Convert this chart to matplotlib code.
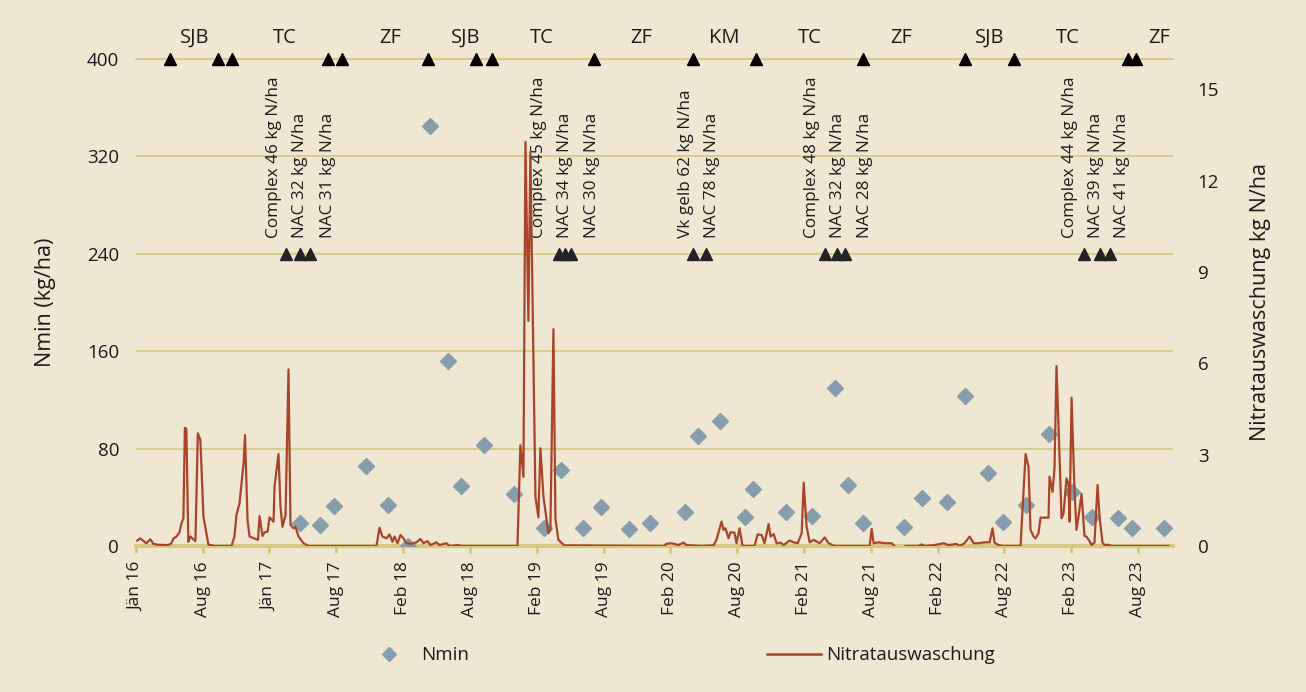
import numpy as np
import matplotlib.pyplot as plt
from matplotlib.lines import Line2D
from datetime import datetime, timedelta

plt.rcParams['font.family'] = ['Open Sans', 'DejaVu Sans']

# Nmin samples (kg/ha); dates given as decimal years
nmin_t = [2017.315, 2017.465, 2017.563, 2017.810, 2017.968, 2018.125, 2018.290, 2018.425,
          2018.523, 2018.695, 2018.920, 2019.145, 2019.273, 2019.438, 2019.573, 2019.783,
          2019.940, 2020.203, 2020.300, 2020.465, 2020.645, 2020.705, 2020.953, 2021.148,
          2021.320, 2021.418, 2021.530, 2021.838, 2021.973, 2022.160, 2022.295, 2022.468,
          2022.580, 2022.753, 2022.925, 2023.105, 2023.255, 2023.443, 2023.555, 2023.788]
nmin_v = [19, 17, 33, 66, 34, 0, 345, 152,
          49, 83, 43, 15, 62, 15, 32, 14,
          19, 28, 90, 103, 24, 47, 28, 25,
          130, 50, 19, 16, 39, 36, 123, 60,
          20, 34, 92, 44, 24, 23, 15, 15]

# Nitrate leaching (kg N/ha); nan = missing
leach_t = [2016.093, 2016.115, 2016.160, 2016.190, 2016.213, 2016.250, 2016.325, 2016.348,
           2016.363, 2016.385, 2016.408, 2016.423, 2016.438, 2016.449, 2016.460, 2016.475,
           2016.490, 2016.528, 2016.546, 2016.565, 2016.588, 2016.625, 2016.670, 2016.798,
           2016.820, 2016.835, 2016.858, 2016.888, 2016.899, 2016.918, 2016.933, 2016.985,
           2016.996, 2017.008, 2017.030, 2017.045, 2017.068, 2017.083, 2017.113, 2017.120,
           2017.150, 2017.165, 2017.180, 2017.203, 2017.225, 2017.240, 2017.263, 2017.278,
           2017.300, 2017.338, 2017.375, 2017.885, 2017.908, 2017.930, 2017.960, 2017.983,
           2018.005, 2018.020, 2018.043, 2018.065, 2018.088, 2018.110, 2018.148, 2018.185,
           2018.215, 2018.238, 2018.268, 2018.290, 2018.335, 2018.358, 2018.410, 2018.433,
           2018.500, 2018.523, 2018.943, 2018.965, 2018.988, 2019.003, 2019.025, 2019.040,
           2019.078, 2019.100, 2019.115, 2019.138, 2019.175, 2019.190, 2019.213, 2019.228,
           2019.250, 2019.295, 2020.045, 2020.060, 2020.098, 2020.128, 2020.150, 2020.188,
           2020.210, 2020.323, 2020.413, 2020.435, 2020.473, 2020.488, 2020.503, 2020.525,
           2020.540, 2020.570, 2020.585, 2020.608, 2020.630, 2020.720, 2020.743, 2020.773,
           2020.795, 2020.825, 2020.840, 2020.863, 2020.885, 2020.915, 2020.938, 2020.983,
           2021.013, 2021.043, 2021.073, 2021.088, 2021.110, 2021.133, 2021.163, 2021.208,
           2021.245, 2021.275, 2021.320, 2021.583, 2021.598, 2021.613, 2021.650, 2021.695,
           2021.748, 2021.770, 2021.810, 2021.853, 2021.950, 2021.973, 2021.995, 2022.070,
           2022.138, 2022.175, 2022.235, 2022.258, 2022.295, 2022.333, 2022.363, 2022.400,
           2022.445, 2022.483, 2022.505, 2022.520, 2022.550, 2022.588, 2022.715, 2022.738,
           2022.753, 2022.775, 2022.790, 2022.813, 2022.828, 2022.850, 2022.865, 2022.925,
           2022.933, 2022.955, 2022.970, 2022.985, 2023.008, 2023.023, 2023.038, 2023.060,
           2023.075, 2023.083, 2023.098, 2023.120, 2023.135, 2023.150, 2023.173, 2023.195,
           2023.210, 2023.233, 2023.248, 2023.270, 2023.293, 2023.308, 2023.330, 2023.345,
           2023.375, 2023.398, 2023.825]
leach_v = [0.18, 0.25, 0.09, 0.22, 0.07, 0.04, 0.03, 0.09,
           0.24, 0.31, 0.44, 0.74, 0.91, 3.88, 3.85, 0.14,
           0.31, 0.16, 3.70, 3.48, 0.96, 0.05, 0.0, 0.0,
           0.31, 1.02, 1.40, 2.71, 3.64, 0.85, 0.31, 0.22,
           0.20, 0.98, 0.33, 0.45, 0.47, 0.94, 0.80, 1.95,
           3.02, 1.29, 0.63, 1.02, 5.80, 0.70, 0.58, 0.63,
           0.31, 0.09, 0.0, 0.0, 0.60, 0.31, 0.25, 0.38,
           0.14, 0.31, 0.09, 0.36, 0.25, 0.09, 0.07, 0.12,
           0.23, 0.09, 0.16, 0.03, 0.12, 0.03, 0.09, 0.0,
           0.03, 0.0, 0.0, 3.31, 2.27, 13.27, 7.39, 12.94,
           1.62, 0.94, 3.21, 1.62, 0.42, 0.52, 7.12, 0.90,
           0.20, 0.02, 0.0, 0.07, 0.09, 0.06, 0.03, 0.11,
           0.03, 0.0, 0.02, 0.20, 0.80, 0.53, 0.58, 0.25,
           0.45, 0.44, 0.09, 0.58, 0.0, 0.0, 0.38, 0.36,
           0.09, 0.72, 0.31, 0.39, 0.09, 0.11, 0.03, 0.18,
           0.12, 0.09, 0.42, 2.08, 0.63, 0.12, 0.20, 0.09,
           0.28, 0.09, 0.0, 0.0, 0.56, 0.09, 0.12, 0.09,
           0.09, 0.0, np.nan, 0.0, 0.0, 0.05, 0.0, 0.03,
           0.09, 0.03, 0.07, 0.0, 0.09, 0.31, 0.09, 0.09,
           0.12, 0.12, 0.58, 0.11, 0.03, 0.0, 0.0, 1.84,
           3.02, 2.60, 0.53, 0.31, 0.25, 0.42, 0.93, 0.93,
           2.28, 1.78, 2.55, 5.91, 2.82, 0.91, 1.07, 2.22,
           2.06, 0.80, 4.87, 1.84, 0.53, 0.96, 1.71, 0.33,
           0.31, 0.16, 0.03, 0.11, 2.00, 0.96, 0.11, 0.03,
           0.04, 0.0, 0.0]

# crops along the top
crop_t = [2016.520, 2017.195, 2017.990, 2018.553, 2019.123, 2019.873,
          2020.495, 2021.133, 2021.823, 2022.483, 2023.068, 2023.758]
crop_lbl = ['SJB', 'TC', 'ZF', 'SJB', 'TC', 'ZF', 'KM', 'TC', 'ZF', 'SJB', 'TC', 'ZF']

# sowing / harvest events (triangles on the 400 line)
event_t = [2016.340, 2016.700, 2016.798, 2017.525, 2017.623, 2018.275, 2018.635, 2018.755,
           2019.520, 2020.263, 2020.728, 2021.530, 2022.295, 2022.663, 2023.525, 2023.578]

# fertiliser applications (triangles on the 240 line) and their labels
fert_t = [2017.203, 2017.315, 2017.390, 2019.258, 2019.303, 2019.348, 2020.263, 2020.360,
          2021.245, 2021.335, 2021.395, 2023.195, 2023.308, 2023.390]
fert_lbl_t = [2017.120, 2017.315, 2017.518, 2019.108, 2019.303, 2019.505, 2020.210, 2020.405,
              2021.148, 2021.343, 2021.545, 2023.083, 2023.285, 2023.480]
fert_lbl = ['Complex 46 kg N/ha', 'NAC 32 kg N/ha', 'NAC 31 kg N/ha',
            'Complex 45 kg N/ha', 'NAC 34 kg N/ha', 'NAC 30 kg N/ha',
            'Vk gelb 62 kg N/ha', 'NAC 78 kg N/ha',
            'Complex 48 kg N/ha', 'NAC 32 kg N/ha', 'NAC 28 kg N/ha',
            'Complex 44 kg N/ha', 'NAC 39 kg N/ha', 'NAC 41 kg N/ha']

MONTHS = ['Jän', 'Feb', 'Mär', 'Apr', 'Mai', 'Jun', 'Jul', 'Aug', 'Sep', 'Okt', 'Nov', 'Dez']


def to_date(y):
    yr = int(y)
    start = datetime(yr, 1, 1)
    length = (datetime(yr + 1, 1, 1) - start).days
    return start + timedelta(days=(y - yr) * length)


def dates(ys):
    return [to_date(y) for y in ys]


BG = '#efe7d1'
GOLD = '#d8c77f'
RUST = '#a8442a'
SLATE = '#879dab'
TXT = '#1a1a1a'

fig = plt.figure(figsize=(13.06, 6.92), dpi=100, facecolor=BG)
ax = fig.add_axes([0.104, 0.211, 0.794, 0.704])
ax.set_facecolor(BG)
ax2 = ax.twinx()

start = datetime(2016, 1, 31)
ticks = [start + timedelta(days=183 * k) for k in range(16)]
ax.set_xlim(start, start + timedelta(days=2840))
ax.set_xticks(ticks)
ax.set_xticklabels([f'{MONTHS[t.month - 1]} {t.year % 100:02d}' for t in ticks],
                   rotation=90, fontsize=12.5, color=TXT)
ax.tick_params(axis='x', length=5, width=2, color=GOLD, pad=6)

ax.set_ylim(0, 400)
ax.set_yticks([0, 80, 160, 240, 320, 400])
ax.tick_params(axis='y', length=0, labelsize=13.5, pad=12, labelcolor=TXT)
ax.yaxis.grid(True, color=GOLD, lw=1.2)
ax.axhline(400, color=GOLD, lw=1.2, clip_on=False, zorder=0.5)
ax.set_axisbelow(True)
ax.set_ylabel('Nmin (kg/ha)', fontsize=15.5, color=TXT, labelpad=22)

ax2.set_ylim(0, 16)
ax2.set_yticks([0, 3, 6, 9, 12, 15])
ax2.tick_params(axis='y', length=0, labelsize=13.5, pad=18, labelcolor=TXT)
ax2.set_ylabel('Nitratauswaschung kg N/ha', fontsize=15.5, color=TXT, labelpad=22)

for a in (ax, ax2):
    for s in ('top', 'left', 'right'):
        a.spines[s].set_visible(False)
ax.spines['bottom'].set_color(GOLD)
ax.spines['bottom'].set_linewidth(3)
ax2.spines['bottom'].set_visible(False)

ax.plot(dates(nmin_t), nmin_v, linestyle='none', marker='D', ms=8,
        color=SLATE, mec=SLATE, zorder=3)
ax2.plot(dates(leach_t), leach_v, color=RUST, lw=1.6, zorder=4)

ax.plot(dates(event_t), [400] * len(event_t), linestyle='none', marker='^',
        ms=8, color='black', clip_on=False, zorder=5)
ax.plot(dates(fert_t), [240] * len(fert_t), linestyle='none', marker='^',
        ms=8, color='#222222', zorder=5)

for t, lbl in zip(dates(fert_lbl_t), fert_lbl):
    ax.text(t, 253, lbl, rotation=90, ha='center', va='bottom',
            fontsize=12.3, color=TXT, zorder=6)

for t, lbl in zip(dates(crop_t), crop_lbl):
    ax.text(t, 417, lbl, ha='center', va='center', fontsize=14.5,
            color=TXT, clip_on=False)

handles = [Line2D([], [], linestyle='none', marker='D', ms=7, color=SLATE),
           Line2D([], [], color=RUST, lw=1.8)]
fig.legend(handles, ['Nmin', 'Nitratauswaschung'], loc='center',
           bbox_to_anchor=(0.5195, 0.053), ncol=2, frameon=False, fontsize=13.5,
           handlelength=2.9, handletextpad=0.27, columnspacing=15.87,
           labelcolor=TXT)

fig.savefig('out.png', dpi=100, facecolor=BG)
